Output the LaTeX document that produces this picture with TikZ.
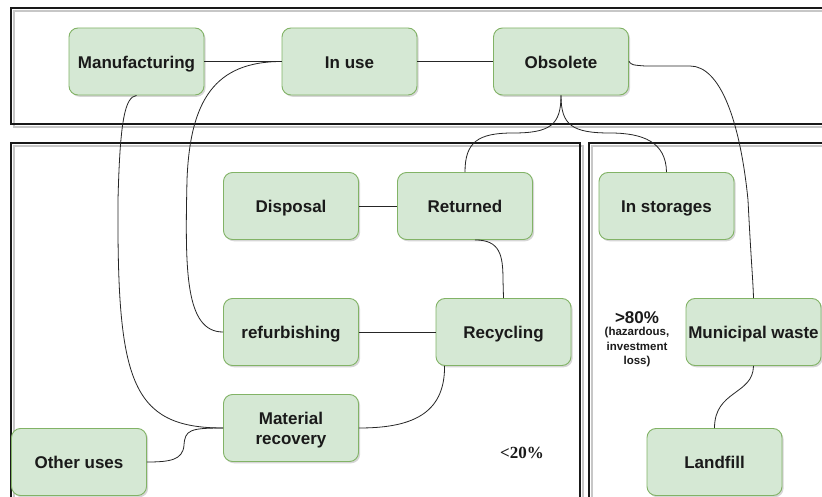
\documentclass[tikz,border=0pt]{standalone}
\usepackage{fontspec}
\setmainfont{Liberation Sans}
\newfontfamily\numserif{Liberation Serif}
\usetikzlibrary{shadows}
\definecolor{boxfill}{HTML}{D5E8D4}
\definecolor{boxline}{HTML}{82B366}
\definecolor{ink}{HTML}{1A1A1A}

\begin{document}
\begin{tikzpicture}[x=1pt,y=-1pt,
  stage/.style={draw=boxline, fill=boxfill, rounded corners=9pt, line width=0.9pt,
    minimum width=135pt, minimum height=67pt, inner sep=0pt, text=ink,
    text height=15pt, text depth=1.4pt,
    font=\fontsize{17}{20}\selectfont\bfseries, align=center,
    drop shadow={shadow xshift=1.6pt, shadow yshift=-1.8pt, fill=black!35, opacity=0.45}},
  twolines/.style={text height=35pt},
  link/.style={draw=black!85, line width=0.8pt},
  frame/.style={draw=black!90, line width=2pt},
  frameshade/.style={draw=black!22, line width=2pt},
  note/.style={text=ink, inner sep=0pt, align=center}]
\useasboundingbox (0,0) rectangle (822,497);
\fill[white] (0,0) rectangle (822,497);

\begin{scope}
  \clip (0,0) rectangle (822,497);
  % section frames: soft shade first, outline on top
  \draw[frameshade] (14,11) rectangle (845,127);
  \draw[frameshade] (14,146) rectangle (583,530);
  \draw[frameshade] (592,146) rectangle (845,530);
  \draw[frame] (11,8) rectangle (842,124);
  \draw[frame] (11,143) rectangle (580,527);
  \draw[frame] (589,143) rectangle (842,527);
\end{scope}

% process stages
\node[stage] (man) at (136.5,61.5) {Manufacturing};
\node[stage] (use) at (349.5,61.5) {In use};
\node[stage] (obs) at (561,61.5) {Obsolete};
\node[stage] (dis) at (291,206) {Disposal};
\node[stage] (ret) at (465,206) {Returned};
\node[stage] (sto) at (666.5,206) {In storages};
\node[stage] (ref) at (291,332) {refurbishing};
\node[stage] (rec) at (503.5,332) {Recycling};
\node[stage] (mun) at (753.5,332) {Municipal waste};
\node[stage, twolines] (mat) at (291,428) {Material\\recovery};
\node[stage] (oth) at (79,462) {Other uses};
\node[stage] (lan) at (714.5,462) {Landfill};

% shares
\node[note, font=\fontsize{17}{20}\selectfont\bfseries] (big) at (637,318) {>80\%};
\node[note, font=\fontsize{11.5}{14.5}\selectfont\bfseries] (why) at (637,347.5) {(hazardous,\\investment\\loss)};
\node[note, font=\numserif\fontsize{17}{20}\selectfont\bfseries] (small) at (522,453) {<20\%};

% connectors
\draw[link] (man.east) -- (use.west);
\draw[link] (use.east) -- (obs.west);
\draw[link] (dis.east) -- (ret.west);
\draw[link] (ref.east) -- (rec.west);

\draw[link] (use.west) .. controls (215,61.5) and (190,100) .. (187,180)
  .. controls (185,270) and (185,332) .. (ref.west);
\draw[link] (man.south) .. controls (125,97) and (120,120) .. (118,200)
  .. controls (117,380) and (130,428) .. (mat.west);
\draw[link] (obs.south) .. controls (561,125) and (550,133) .. (513,133)
  .. controls (478,133) and (465,142) .. (ret.north);
\draw[link] (obs.south) .. controls (561,125) and (572,133) .. (610,133)
  .. controls (643,133) and (666,142) .. (sto.north);
\draw[link] (obs.east) .. controls (632,65) .. (645,66) -- (690,66)
  .. controls (720,66) and (740,120) .. (748,200)
  .. controls (751,260) and (753,280) .. (mun.north);
\draw[link] ([xshift=10pt]ret.south) .. controls (500,240) and (503,255) .. (503,280)
  -- (rec.north);
\draw[link] ([xshift=9pt]rec.south west) .. controls (445,415) and (410,428) .. (mat.east);
\draw[link] (mat.west) .. controls (190,428) and (185,430) .. (184,445)
  .. controls (183,460) and (170,462) .. (oth.east);
\draw[link] (mun.south) .. controls (753,395) and (714.5,390) .. (lan.north);
\end{tikzpicture}
\end{document}
